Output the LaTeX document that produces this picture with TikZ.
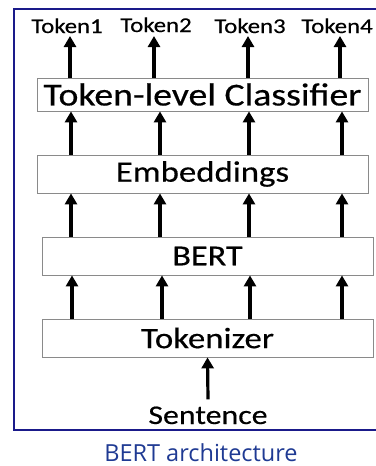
\documentclass[tikz,border=0pt]{standalone}
\usepackage{fontspec}
\setmainfont[FakeStretch=1.18, FakeBold=0.4]{Carlito}
\newfontfamily\captionfont{Open Sans}
\usetikzlibrary{arrows.meta}
\definecolor{framenavy}{HTML}{1A1A8A}
\definecolor{captionblue}{HTML}{1F3A93}
\definecolor{boxgray}{HTML}{8A8A8A}
\tikzset{
  layer/.style={draw=boxgray, line width=0.8pt, fill=white, minimum width=331pt,
    inner sep=0pt, font=\fontsize{29.5}{31}\selectfont},
  up/.style={line width=3.2pt, -{Triangle[length=11pt, width=12pt]}},
  toklabel/.style={anchor=base, inner sep=0pt, font=\fontsize{21}{23}\selectfont},
}
\begin{document}
\begin{tikzpicture}[x=1pt, y=-1pt]
  \useasboundingbox (0,0) rectangle (375,466);
  \fill[white] (0,0) rectangle (375,466);

  % outer frame (its right side runs past the page edge)
  \draw[framenavy, line width=1.8pt] (390,9) -- (14,9) -- (14,430) -- (390,430);

  % layers
  \node[layer, minimum height=33pt, font=\fontsize{32}{34}\selectfont] (cls) at (202.5,94.5) {Token-level Classifier};
  \node[layer, minimum height=38pt, font=\fontsize{29.5}{31}\selectfont] (emb) at (202.5,174) {Embeddings};
  \node[layer, minimum height=38pt, font=\fontsize{29}{31}\selectfont] (bert) at (207.5,256) {BERT};
  \node[layer, minimum height=38pt] (tok) at (207.5,338) {Tokenizer};

  % output token labels
  \node[toklabel] (t1) at (67,33) {Token1};
  \node[toklabel] (t2) at (156,32) {Token2};
  \node[toklabel] (t3) at (250,33) {Token3};
  \node[toklabel] (t4) at (337,33) {Token4};

  % input
  \node[anchor=base, inner sep=0pt, font=\fontsize{27}{29}\selectfont] (sent) at (208,424) {Sentence};

  % arrow columns
  \coordinate (a1) at (70,0);
  \coordinate (a2) at (154,0);
  \coordinate (a3) at (248,0);
  \coordinate (a4) at (340,0);
  \coordinate (b1) at (71,0);
  \coordinate (b2) at (160,0);
  \coordinate (b3) at (249,0);
  \coordinate (b4) at (342,0);
  \coordinate (c1) at (72,0);
  \coordinate (c2) at (162,0);
  \coordinate (c3) at (250,0);
  \coordinate (c4) at (342,0);

  % classifier -> token labels
  \draw[up] (cls.north -| a1) -- ([yshift=-3pt]t1.base -| a1);
  \draw[up] (cls.north -| a2) -- ([yshift=-4pt]t2.base -| a2);
  \draw[up] (cls.north -| a3) -- ([yshift=-3pt]t3.base -| a3);
  \draw[up] (cls.north -| a4) -- ([yshift=-3pt]t4.base -| a4);

  % embeddings -> classifier
  \draw[up] (emb.north -| b1) -- (cls.south -| b1);
  \draw[up] (emb.north -| b2) -- (cls.south -| b2);
  \draw[up] (emb.north -| b3) -- (cls.south -| b3);
  \draw[up] (emb.north -| b4) -- (cls.south -| b4);

  % BERT -> embeddings
  \draw[up] (bert.north -| b1) -- (emb.south -| b1);
  \draw[up] (bert.north -| b2) -- (emb.south -| b2);
  \draw[up] (bert.north -| b3) -- (emb.south -| b3);
  \draw[up] (bert.north -| b4) -- (emb.south -| b4);

  % tokenizer -> BERT
  \draw[up] (tok.north -| c1) -- (bert.south -| c1);
  \draw[up] (tok.north -| c2) -- (bert.south -| c2);
  \draw[up] (tok.north -| c3) -- (bert.south -| c3);
  \draw[up] (tok.north -| c4) -- (bert.south -| c4);

  % sentence -> tokenizer
  \draw[up] ([yshift=7pt]sent.north) -- (tok.south);

  % caption
  \node[captionblue, anchor=base, font=\captionfont\fontsize{23.5}{26}\selectfont, inner sep=0pt] (cap) at (201,461) {BERT architecture};
\end{tikzpicture}
\end{document}
